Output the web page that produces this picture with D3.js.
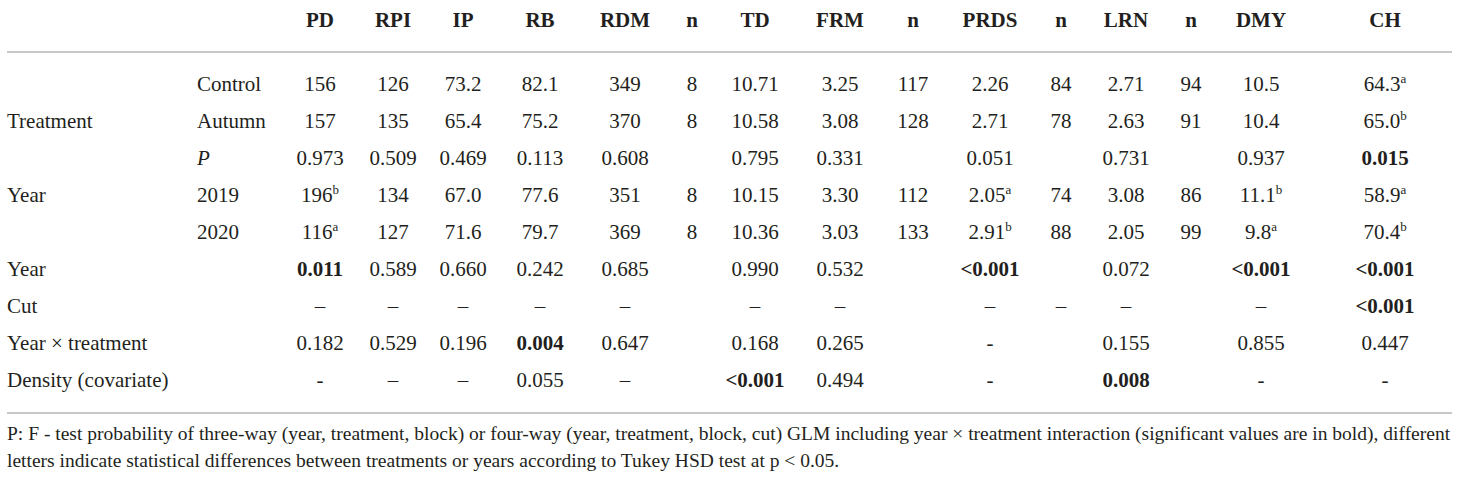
<!DOCTYPE html>
<html>
<head>
<meta charset="utf-8">
<script src="https://cdn.jsdelivr.net/npm/d3@7"></script>
<style>
  body { margin: 0; background: #fff; }
</style>
</head>
<body>
<svg id="chart"></svg>
<script>
// column headers
const headers = ["PD", "RPI", "IP", "RB", "RDM", "n", "TD", "FRM", "n", "PRDS", "n", "LRN", "n", "DMY", "CH"]

// row labels (first and second label column)
const groupLabels = ["", "Treatment", "", "Year", "", "Year", "Cut", "Year × treatment", "Density (covariate)"]
const subLabels = ["Control", "Autumn", "P", "2019", "2020", "", "", "", ""]

// cell values: "**" = bold, "^x" = superscript letter
const rowControl = ["156", "126", "73.2", "82.1", "349", "8", "10.71", "3.25", "117", "2.26", "84", "2.71", "94", "10.5", "64.3^a"]
const rowAutumn  = ["157", "135", "65.4", "75.2", "370", "8", "10.58", "3.08", "128", "2.71", "78", "2.63", "91", "10.4", "65.0^b"]
const rowPTreat  = ["0.973", "0.509", "0.469", "0.113", "0.608", "", "0.795", "0.331", "", "0.051", "", "0.731", "", "0.937", "**0.015"]
const row2019    = ["196^b", "134", "67.0", "77.6", "351", "8", "10.15", "3.30", "112", "2.05^a", "74", "3.08", "86", "11.1^b", "58.9^a"]
const row2020    = ["116^a", "127", "71.6", "79.7", "369", "8", "10.36", "3.03", "133", "2.91^b", "88", "2.05", "99", "9.8^a", "70.4^b"]
const rowPYear   = ["**0.011", "0.589", "0.660", "0.242", "0.685", "", "0.990", "0.532", "", "**<0.001", "", "0.072", "", "**<0.001", "**<0.001"]
const rowCut     = ["–", "–", "–", "–", "–", "", "–", "–", "", "–", "–", "–", "", "–", "**<0.001"]
const rowInter   = ["0.182", "0.529", "0.196", "**0.004", "0.647", "", "0.168", "0.265", "", "-", "", "0.155", "", "0.855", "0.447"]
const rowDensity = ["-", "–", "–", "0.055", "–", "", "**<0.001", "0.494", "", "-", "", "**0.008", "", "-", "-"]

const footnote = [
  "P: F - test probability of three-way (year, treatment, block) or four-way (year, treatment, block, cut) GLM including year × treatment interaction (significant values are in bold), different",
  "letters indicate statistical differences between treatments or years according to Tukey HSD test at p < 0.05."
]

const rows = [rowControl, rowAutumn, rowPTreat, row2019, row2020, rowPYear, rowCut, rowInter, rowDensity]

// layout
const W = 1460, H = 479
const colX = [320, 393, 463, 540, 625, 692, 755, 840, 913, 990, 1061, 1126, 1191, 1261, 1385]
const fs = 21
const serif = "'Liberation Serif', 'DejaVu Serif', 'Times New Roman', serif"

const svg = d3.select('#chart')
  .attr('width', W).attr('height', H)
  .attr('font-family', serif)
  .style('font-family', serif)
  .attr('fill', '#231f20')

const x = d3.scaleOrdinal().domain(d3.range(headers.length)).range(colX)
const y = d3.scalePoint().domain(d3.range(rows.length)).range([91, 387])

// header
svg.selectAll('text.head')
  .data(headers)
  .join('text')
    .attr('class', 'head')
    .attr('x', (d, i) => x(i))
    .attr('y', 27)
    .attr('text-anchor', 'middle')
    .style('font-size', fs + 'px')
    .style('font-weight', 'bold')
    .text(d => d)

// rules
svg.selectAll('line.rule')
  .data([52, 413])
  .join('line')
    .attr('class', 'rule')
    .attr('x1', 7).attr('x2', 1452)
    .attr('y1', d => d).attr('y2', d => d)
    .attr('stroke', '#c8c8c8')
    .attr('stroke-width', 2)

// row labels
svg.selectAll('text.group')
  .data(groupLabels)
  .join('text')
    .attr('class', 'group')
    .attr('x', 7)
    .attr('y', (d, i) => y(i))
    .style('font-size', fs + 'px')
    .text(d => d)

svg.selectAll('text.sub')
  .data(subLabels)
  .join('text')
    .attr('class', 'sub')
    .attr('x', 197)
    .attr('y', (d, i) => y(i))
    .style('font-size', fs + 'px')
    .style('font-style', d => d === 'P' ? 'italic' : 'normal')
    .text(d => d)

// cells
const cells = rows.flatMap((r, ri) => r.map((v, ci) => ({ v, ri, ci })))
  .filter(d => d.v !== '')

const cellText = svg.selectAll('text.cell')
  .data(cells)
  .join('text')
    .attr('class', 'cell')
    .attr('x', d => x(d.ci))
    .attr('y', d => y(d.ri))
    .attr('text-anchor', 'middle')
    .style('font-size', fs + 'px')
    .style('font-weight', d => d.v.startsWith('**') ? 'bold' : 'normal')

cellText.each(function(d) {
  const raw = d.v.replace('**', '')
  const [main, sup] = raw.split('^')
  const t = d3.select(this)
  t.append('tspan').text(main)
  if (sup) {
    t.append('tspan')
      .attr('dy', -8)
      .style('font-size', '13px')
      .text(sup)
  }
})

// footnote, sized so the first line spans the table width
const foot = svg.selectAll('text.foot')
  .data(footnote)
  .join('text')
    .attr('class', 'foot')
    .attr('x', 7)
    .attr('y', (d, i) => 440 + i * 27)
    .style('font-size', '18px')
    .text(d => d)

const w0 = foot.node().getComputedTextLength()
foot.style('font-size', (18 * 1444 / w0) + 'px')
</script>
</body>
</html>
